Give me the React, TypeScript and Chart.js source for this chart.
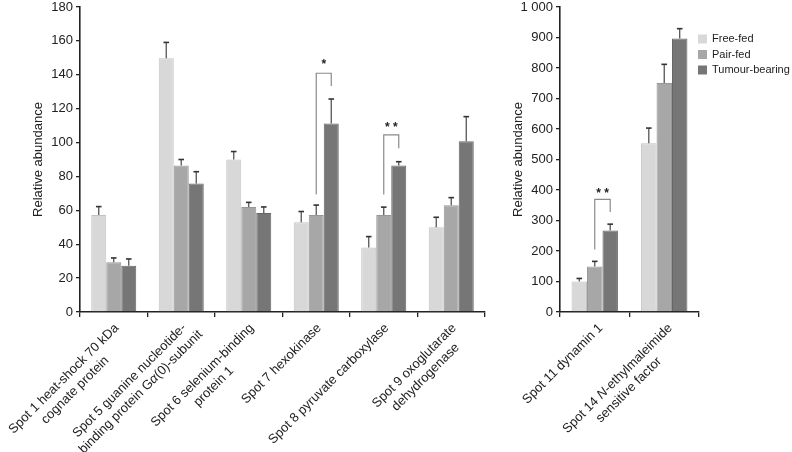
import React, { useEffect, useRef } from "react";
import { Chart, registerables } from "chart.js";

Chart.register(...registerables);

const FONT = "'Liberation Sans', Arial, Helvetica, sans-serif";

const SERIES = ["Free-fed", "Pair-fed", "Tumour-bearing"];
const SERIES_FILL = ["#d8d8d8", "#a7a7a7", "#767676"];
const SERIES_EDGE = ["#c2c2c2", "#969696", "#666666"];

// Left panel (italic parts of a label are wrapped in underscores)
const LEFT_CATEGORIES = [
  ["Spot 1 heat-shock 70 kDa", "cognate protein"],
  ["Spot 5 guanine nucleotide-", "binding protein G_\u03b1_(0)-subunit"],
  ["Spot 6 selenium-binding", "protein 1"],
  ["Spot 7 hexokinase"],
  ["Spot 8 pyruvate carboxylase"],
  ["Spot 9 oxoglutarate", "dehydrogenase"],
];
const LEFT_FREE = [57.3, 149.7, 90, 53, 38, 50];
const LEFT_PAIR = [29.3, 86.5, 62, 57.3, 57.3, 63];
const LEFT_TUMOUR = [27.3, 75.8, 58.5, 111.3, 86.4, 100.8];
const LEFT_FREE_ERR = [4.9, 9.4, 4.7, 6.3, 6.5, 5.9];
const LEFT_PAIR_ERR = [2.6, 3.5, 2.7, 5.8, 4.6, 4.5];
const LEFT_TUMOUR_ERR = [4, 7, 3.5, 14.4, 2.3, 14.5];
const LEFT_Y_MAX = 180;
const LEFT_Y_STEP = 20;
const LEFT_BRACKETS = [
  { cat: 3, from: 1, to: 2, leftEnd: 69.4, top: 140.9, rightEnd: 133.4, labelAt: 147.7, label: "*" },
  { cat: 4, from: 1, to: 2, leftEnd: 69.4, top: 104.5, rightEnd: 96.6, labelAt: 110.8, label: "**" },
];

// Right panel
const RIGHT_CATEGORIES = [
  ["Spot 11 dynamin 1"],
  ["Spot 14 _N_-ethylmaleimide", "sensitive factor"],
];
const RIGHT_FREE = [100, 553];
const RIGHT_PAIR = [149, 751];
const RIGHT_TUMOUR = [267, 897];
const RIGHT_FREE_ERR = [10, 50];
const RIGHT_PAIR_ERR = [17, 61];
const RIGHT_TUMOUR_ERR = [21, 32];
const RIGHT_Y_MAX = 1000;
const RIGHT_Y_STEP = 100;
const RIGHT_BRACKETS = [
  { cat: 0, from: 1, to: 2, leftEnd: 205, top: 369, rightEnd: 328, labelAt: 397, label: "**" },
];

const Y_TITLE = "Relative abundance";

function formatTick(v: number): string {
  const s = String(v);
  return v >= 1000 ? s.slice(0, s.length - 3) + " " + s.slice(s.length - 3) : s;
}

const errorBarPlugin = {
  id: "errorBars",
  afterDatasetsDraw(chart: any) {
    const ctx = chart.ctx;
    const yScale = chart.scales.y;
    chart.data.datasets.forEach((ds: any, d: number) => {
      const meta = chart.getDatasetMeta(d);
      meta.data.forEach((bar: any, i: number) => {
        const v = ds.data[i];
        const e = ds.errors[i];
        const yTop = bar.y;
        const yErr = yScale.getPixelForValue(v + e);
        ctx.save();
        ctx.strokeStyle = "#555";
        ctx.lineWidth = 1.3;
        ctx.beginPath();
        ctx.moveTo(bar.x, yTop);
        ctx.lineTo(bar.x, yErr);
        ctx.stroke();
        ctx.strokeStyle = "#333";
        ctx.lineWidth = 1.6;
        ctx.beginPath();
        ctx.moveTo(bar.x - 2.8, yErr);
        ctx.lineTo(bar.x + 2.8, yErr);
        ctx.stroke();
        ctx.restore();
      });
    });
  },
};

const bracketPlugin = {
  id: "brackets",
  afterDatasetsDraw(chart: any, _args: any, opts: any) {
    const brackets = opts.items || [];
    const ctx = chart.ctx;
    const yScale = chart.scales.y;
    brackets.forEach((b: any) => {
      const x1 = chart.getDatasetMeta(b.from).data[b.cat].x;
      const x2 = chart.getDatasetMeta(b.to).data[b.cat].x;
      const yl = yScale.getPixelForValue(b.leftEnd);
      const yt = yScale.getPixelForValue(b.top);
      const yr = yScale.getPixelForValue(b.rightEnd);
      ctx.save();
      ctx.strokeStyle = "#8a8a8a";
      ctx.lineWidth = 1.2;
      ctx.beginPath();
      ctx.moveTo(x1, yl);
      ctx.lineTo(x1, yt);
      ctx.lineTo(x2, yt);
      ctx.lineTo(x2, yr);
      ctx.stroke();
      ctx.fillStyle = "#222";
      ctx.font = `bold 12px ${FONT}`;
      ctx.textAlign = "center";
      ctx.textBaseline = "middle";
      const ly = yScale.getPixelForValue(b.labelAt);
      const txt = b.label.split("").join(" ");
      ctx.fillText(txt, (x1 + x2) / 2, ly + 3);
      ctx.restore();
    });
  },
};

function segments(line: string): { text: string; italic: boolean }[] {
  return line.split("_").map((t, k) => ({ text: t, italic: k % 2 === 1 })).filter((s) => s.text.length > 0);
}

const LABEL_SIZE = 13;

function lineWidth(ctx: CanvasRenderingContext2D, line: string): number {
  let w = 0;
  segments(line).forEach((s) => {
    ctx.font = `${s.italic ? "italic " : ""}${LABEL_SIZE}px ${FONT}`;
    w += ctx.measureText(s.text).width;
  });
  return w;
}

const xLabelPlugin = {
  id: "xLabels",
  afterDraw(chart: any, _args: any, opts: any) {
    const labels = opts.labels || [];
    const dx = opts.dx || 0;
    const ctx = chart.ctx;
    const xScale = chart.scales.x;
    const lh = 16;
    ctx.save();
    ctx.fillStyle = "#222";
    ctx.textBaseline = "middle";
    ctx.textAlign = "left";
    labels.forEach((lines: string[], i: number) => {
      const x = xScale.getPixelForValue(i) + dx;
      const y = xScale.top + 14;
      const w0 = lineWidth(ctx, lines[0]);
      ctx.save();
      ctx.translate(x, y);
      ctx.rotate(-Math.PI / 4);
      lines.forEach((l, j) => {
        const w = lineWidth(ctx, l);
        let cx = -w0 / 2 - w / 2;
        segments(l).forEach((s) => {
          ctx.font = `${s.italic ? "italic " : ""}${LABEL_SIZE}px ${FONT}`;
          ctx.fillText(s.text, cx, j * lh);
          cx += ctx.measureText(s.text).width;
        });
      });
      ctx.restore();
    });
    ctx.restore();
  },
};

const legendPlugin = {
  id: "customLegend",
  afterDraw(chart: any, _args: any, opts: any) {
    if (!opts.show) return;
    const ctx = chart.ctx;
    const left = chart.chartArea.right - 1;
    const top = chart.chartArea.top;
    ctx.save();
    ctx.font = `11px ${FONT}`;
    ctx.textBaseline = "middle";
    ctx.textAlign = "left";
    chart.data.datasets.forEach((ds: any, i: number) => {
      const cy = top + 32 + i * 15.5;
      ctx.fillStyle = ds.backgroundColor;
      ctx.fillRect(left, cy - 4.5, 9, 9);
      ctx.fillStyle = "#222";
      ctx.fillText(ds.label, left + 14, cy);
    });
    ctx.restore();
  },
};

function makeConfig(
  labels: string[][],
  values: number[][],
  errors: number[][],
  yMax: number,
  yStep: number,
  brackets: any[],
  padLeft: number,
  padRight: number,
  showLegend: boolean,
  labelDx: number
): any {
  return {
    type: "bar",
    data: {
      labels: labels.map((l) => l.join(" ").split("_").join("")),
      datasets: SERIES.map((name, k) => ({
        label: name,
        data: values[k],
        errors: errors[k],
        backgroundColor: SERIES_FILL[k],
        borderColor: SERIES_EDGE[k],
        borderWidth: 1,
        categoryPercentage: 0.667,
        barPercentage: 1,
      })),
    },
    options: {
      responsive: false,
      animation: false,
      devicePixelRatio: 1,
      layout: { padding: { left: padLeft, right: padRight, top: 7, bottom: 0 } },
      plugins: {
        legend: { display: false },
        tooltip: { enabled: false },
        brackets: { items: brackets },
        xLabels: { labels, dx: labelDx },
        customLegend: { show: showLegend },
      },
      scales: {
        x: {
          offset: true,
          grid: {
            display: true,
            offset: true,
            drawOnChartArea: false,
            drawTicks: true,
            tickLength: 5,
            color: "#222",
            lineWidth: 1.3,
          },
          border: { display: true, color: "#222", width: 1.6 },
          ticks: { display: false },
          afterFit: (s: any) => {
            s.height = 140;
            s.paddingLeft = 0;
            s.paddingRight = 0;
          },
        },
        y: {
          min: 0,
          max: yMax,
          grid: {
            display: true,
            drawOnChartArea: false,
            drawTicks: true,
            tickLength: 4,
            color: "#222",
            lineWidth: 1.3,
          },
          border: { display: true, color: "#222", width: 1.6 },
          ticks: {
            stepSize: yStep,
            padding: 3,
            color: "#222",
            font: { family: FONT, size: 13 },
            callback: (v: any) => formatTick(Number(v)),
          },
          title: {
            display: true,
            text: Y_TITLE,
            color: "#222",
            font: { family: FONT, size: 13 },
            padding: { top: 4, bottom: 4 },
          },
          afterFit: (s: any) => {
            s.width = 53;
            s.paddingTop = 0;
            s.paddingBottom = 0;
          },
        },
      },
    },
    plugins: [errorBarPlugin, bracketPlugin, xLabelPlugin, legendPlugin],
  };
}

function ChartCanvas(props: { width: number; height: number; left: number; config: () => any }) {
  const ref = useRef<HTMLCanvasElement | null>(null);
  useEffect(() => {
    if (!ref.current) return;
    const chart = new Chart(ref.current, props.config());
    return () => chart.destroy();
  }, []);
  return (
    <canvas
      ref={ref}
      width={props.width}
      height={props.height}
      style={{ position: "absolute", left: props.left, top: 0, width: props.width, height: props.height }}
    />
  );
}

export default function App() {
  return (
    <div
      style={{
        position: "fixed",
        left: 0,
        top: 0,
        width: 792,
        height: 452,
        background: "#fff",
        overflow: "hidden",
      }}
    >
      <ChartCanvas
        width={490}
        height={452}
        left={0}
        config={() =>
          makeConfig(
            LEFT_CATEGORIES,
            [LEFT_FREE, LEFT_PAIR, LEFT_TUMOUR],
            [LEFT_FREE_ERR, LEFT_PAIR_ERR, LEFT_TUMOUR_ERR],
            LEFT_Y_MAX,
            LEFT_Y_STEP,
            LEFT_BRACKETS,
            27,
            5,
            false,
            3
          )
        }
      />
      <ChartCanvas
        width={302}
        height={452}
        left={490}
        config={() =>
          makeConfig(
            RIGHT_CATEGORIES,
            [RIGHT_FREE, RIGHT_PAIR, RIGHT_TUMOUR],
            [RIGHT_FREE_ERR, RIGHT_PAIR_ERR, RIGHT_TUMOUR_ERR],
            RIGHT_Y_MAX,
            RIGHT_Y_STEP,
            RIGHT_BRACKETS,
            17,
            93,
            true,
            6
          )
        }
      />
    </div>
  );
}
